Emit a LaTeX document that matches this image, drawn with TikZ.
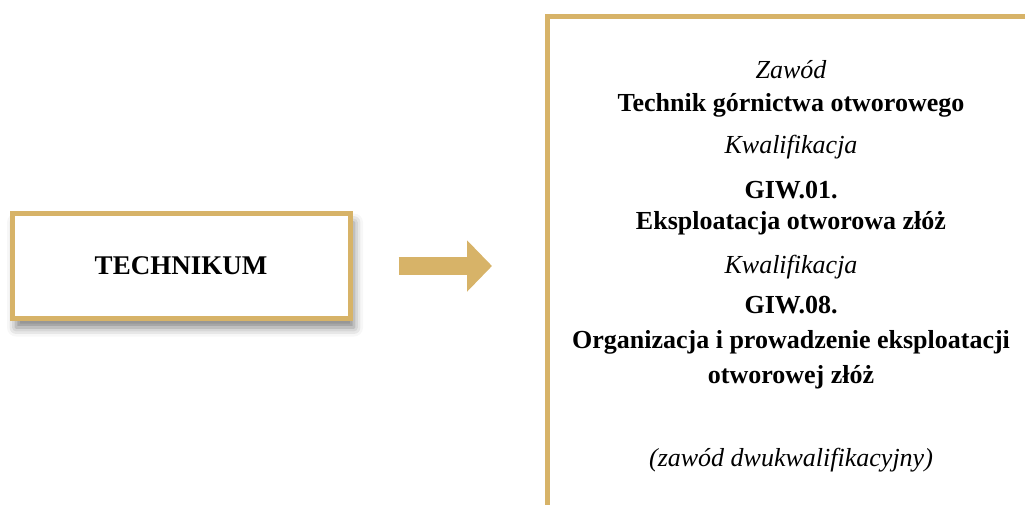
\documentclass[tikz,border=0pt]{standalone}
\usepackage{fontspec}
\setmainfont{Liberation Serif}
\usetikzlibrary{positioning,arrows.meta,shadows.blur}
\definecolor{gold}{RGB}{215,179,104}
\tikzset{
 box/.style
  = {rectangle, draw=gold, line width=5pt, fill=white, minimum width=338pt,
     minimum height=105pt, font=\fontsize{27}{32}\selectfont\bfseries,
     blur shadow={shadow xshift=4pt, shadow yshift=-9pt, shadow blur radius=9pt,
     shadow opacity=50}},
 spec/.style
  = {rectangle, draw=gold, line width=5pt, fill=white, minimum width=560pt,
     minimum height=560pt, anchor=north west},
 bt/.style
  = {anchor=base, inner sep=0pt, font=\fontsize{26}{31}\selectfont\bfseries},
 it/.style
  = {anchor=base, inner sep=0pt, font=\fontsize{26}{31}\selectfont\itshape},
 l/.style
  = {draw=gold, line width=18pt, -{Triangle[width=50pt, length=25pt]}}
}
\begin{document}
\begin{tikzpicture}[x=1pt, y=-1pt]
    \useasboundingbox (0,0) rectangle (1025,504);
    \node [box] (technikum) at (181,266) {TECHNIKUM};
    \node [spec] (spec) at (545,14) {};

    \node [it] (zawod) at (791,78) {Zawód};
    \node [bt, below = 33pt of zawod.base, anchor=base] (zawodname) {Technik górnictwa otworowego};
    \node [it, below = 42pt of zawodname.base, anchor=base] (kw1) {Kwalifikacja};
    \node [bt, below = 45pt of kw1.base, anchor=base] (giw1) {GIW.01.};
    \node [bt, below = 31pt of giw1.base, anchor=base] (giw1name) {Eksploatacja otworowa złóż};
    \node [it, below = 44pt of giw1name.base, anchor=base] (kw2) {Kwalifikacja};
    \node [bt, below = 40pt of kw2.base, anchor=base] (giw8) {GIW.08.};
    \node [bt, below = 35pt of giw8.base, anchor=base] (giw8name) {Organizacja i prowadzenie eksploatacji};
    \node [bt, below = 35pt of giw8name.base, anchor=base] (giw8name2) {otworowej złóż};
    \node [it, below = 83pt of giw8name2.base, anchor=base] (note) {(zawód dwukwalifikacyjny)};

    \path [l, shorten <=46pt, shorten >=53pt] (technikum.east) -- (spec.west |- technikum.east);
\end{tikzpicture}
\end{document}
